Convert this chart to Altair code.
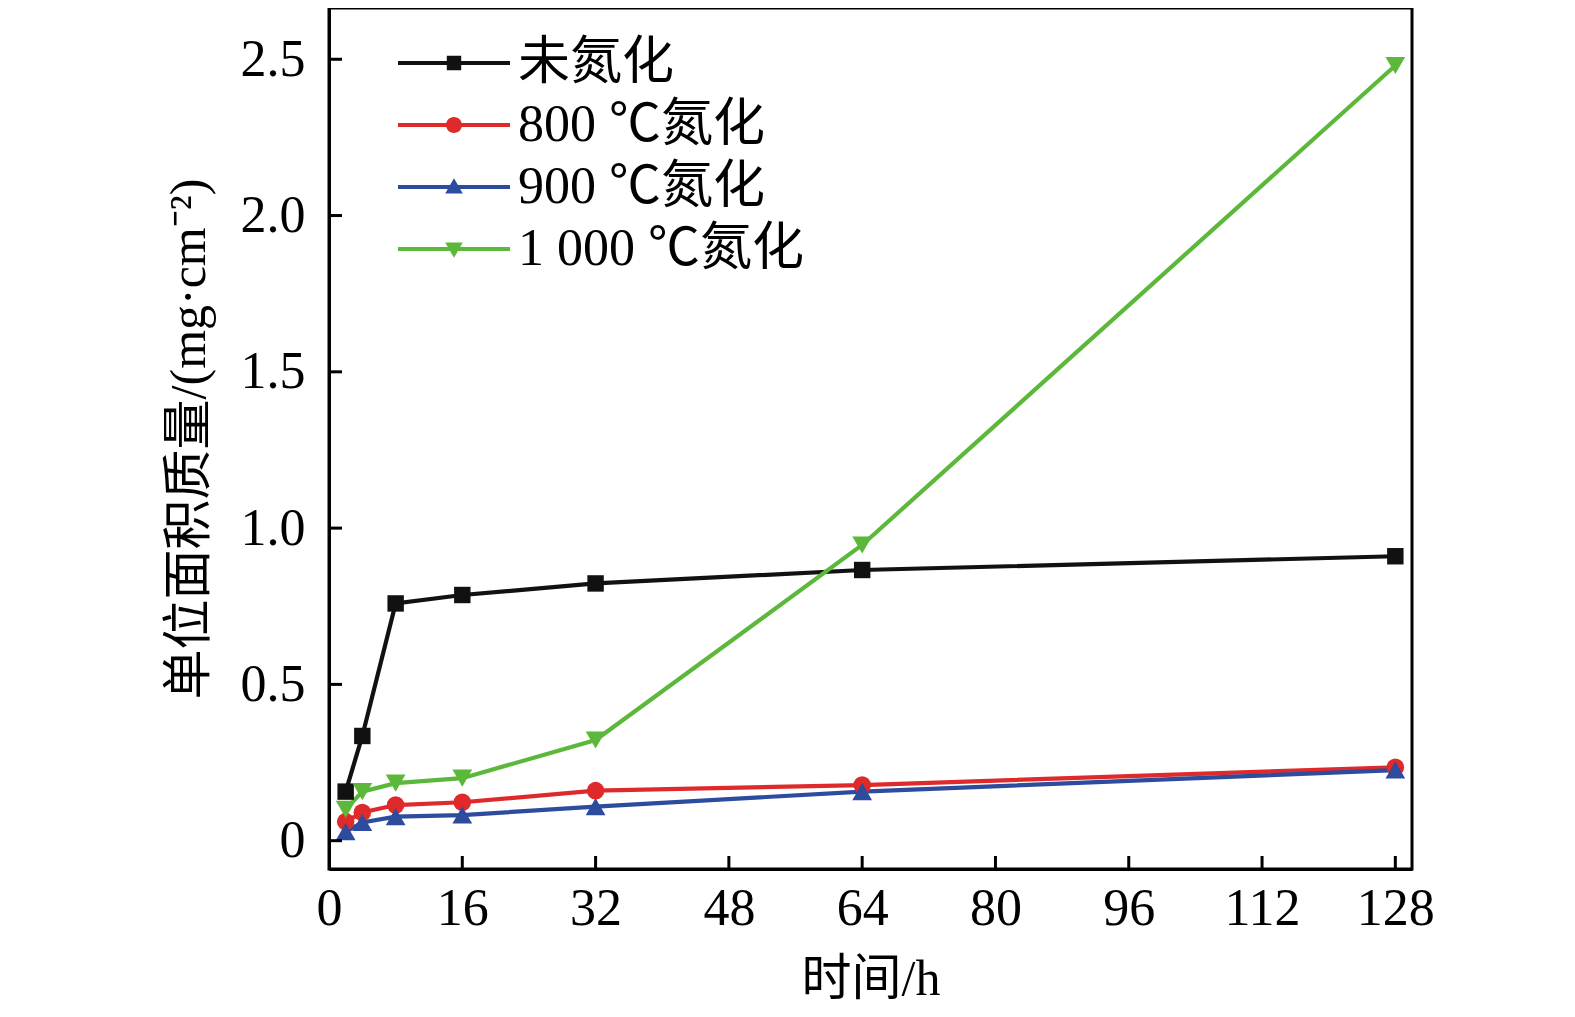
import altair as alt
import pandas as pd

hours = [2, 4, 8, 16, 32, 64, 128]
series_names = ["未氮化", "800 ℃氮化", "900 ℃氮化", "1 000 ℃氮化"]
v_none = [0.157, 0.335, 0.759, 0.786, 0.823, 0.866, 0.91]
v_800 = [0.061, 0.09, 0.114, 0.123, 0.16, 0.178, 0.235]
v_900 = [0.029, 0.058, 0.077, 0.082, 0.109, 0.157, 0.226]
v_1000 = [0.10, 0.157, 0.184, 0.20, 0.322, 0.946, 2.48]
x_ticks = [0, 16, 32, 48, 64, 80, 96, 112, 128]
y_ticks = [0, 0.5, 1.0, 1.5, 2.0, 2.5]

colors = ["#111111", "#df2a2c", "#2e4c9e", "#5cb83a"]
marker_shapes = ["square", "circle", "triangle-up", "triangle-down"]
marker_sizes = [270, 310, 390, 390]
line_path = "M-7,-0.26H7V0.26H-7Z "
legend_paths = [
    line_path + "M-0.9,-0.9H0.9V0.9H-0.9Z",
    line_path + "M-1,0A1,1 0 1,1 1,0A1,1 0 1,1 -1,0Z",
    line_path + "M0,-1.1L1.1,0.8H-1.1Z",
    line_path + "M0,1.1L-1.1,-0.8H1.1Z",
]

rows = []
for name, vals in zip(series_names, [v_none, v_800, v_900, v_1000]):
    for t, v in zip(hours, vals):
        rows.append({"t": t, "v": v, "s": name})
df = pd.DataFrame(rows)

W, H = 1083, 861
FONT = "Liberation Serif, Times New Roman, Noto Sans CJK SC"

xs = alt.Scale(domain=[0, 130], nice=False, zero=False)
ys = alt.Scale(domain=[-0.0906, 2.664], nice=False, zero=False)
cs = alt.Scale(domain=series_names, range=colors)

leg = alt.Legend(title=None, orient="none", legendX=99, legendY=29, padding=0,
                 labelFont=FONT, labelFontSize=52, labelColor="black",
                 labelOffset=38, symbolSize=256, symbolStrokeWidth=0,
                 rowPadding=10, labelLimit=600, symbolOpacity=1)

base = alt.Chart(df)

x_enc = alt.X("t:Q", scale=xs,
              axis=alt.Axis(values=x_ticks, title="时间/h", labelPadding=14,
                            labelFlush=False, titlePadding=20, ticks=False, grid=False))
y_enc = alt.Y("v:Q", scale=ys,
              axis=alt.Axis(values=y_ticks, title="单位面积质量/(mg·cm⁻²)",
                            labelExpr="datum.value == 0 ? '0' : format(datum.value, '.1f')",
                            labelFlush=False, labelPadding=24, titlePadding=26,
                            ticks=False, grid=False))

lines = base.mark_line(strokeWidth=4.2).encode(
    x=x_enc, y=y_enc,
    color=alt.Color("s:N", scale=cs, legend=leg),
    detail="s:N",
)

point_layers = []
for name, shp, sz in zip(series_names, marker_shapes, marker_sizes):
    point_layers.append(
        base.transform_filter(alt.datum.s == name).mark_point(
            filled=True, shape=shp, size=sz, opacity=1, strokeWidth=0
        ).encode(
            x="t:Q", y="v:Q",
            color=alt.Color("s:N", scale=cs, legend=leg),
        )
    )

legend_layer = base.transform_filter("false").mark_point(
    filled=True, opacity=1, size=256
).encode(
    x="t:Q", y="v:Q",
    color=alt.Color("s:N", scale=cs, legend=leg),
    shape=alt.Shape("s:N", scale=alt.Scale(domain=series_names, range=legend_paths), legend=leg),
)

tick_df_x = pd.DataFrame({"t": x_ticks[1:]})
tick_df_y = pd.DataFrame({"v": y_ticks})
xticks = alt.Chart(tick_df_x).mark_rule(color="black", strokeWidth=3).encode(
    x=alt.X("t:Q", scale=xs), y=alt.value(H), y2=alt.value(H - 13))
yticks = alt.Chart(tick_df_y).mark_rule(color="black", strokeWidth=3).encode(
    y=alt.Y("v:Q", scale=ys), x=alt.value(0), x2=alt.value(13))

chart = alt.layer(lines, *point_layers, legend_layer, xticks, yticks).properties(
    width=W, height=H,
    autosize=alt.AutoSizeParams(type="none"),
    padding={"left": 321, "top": 0, "right": 150, "bottom": 146},
).configure_view(stroke="black", strokeWidth=3).configure_axis(
    domainColor="black", domainWidth=3, labelFont=FONT, labelFontSize=52,
    labelColor="black", titleFont=FONT, titleFontSize=50, titleColor="black",
    titleFontWeight="normal",
).configure_legend(
    labelFont=FONT, labelFontSize=52, labelColor="black",
)

chart.save("out.html", embed_options={"renderer": "svg", "actions": False})
